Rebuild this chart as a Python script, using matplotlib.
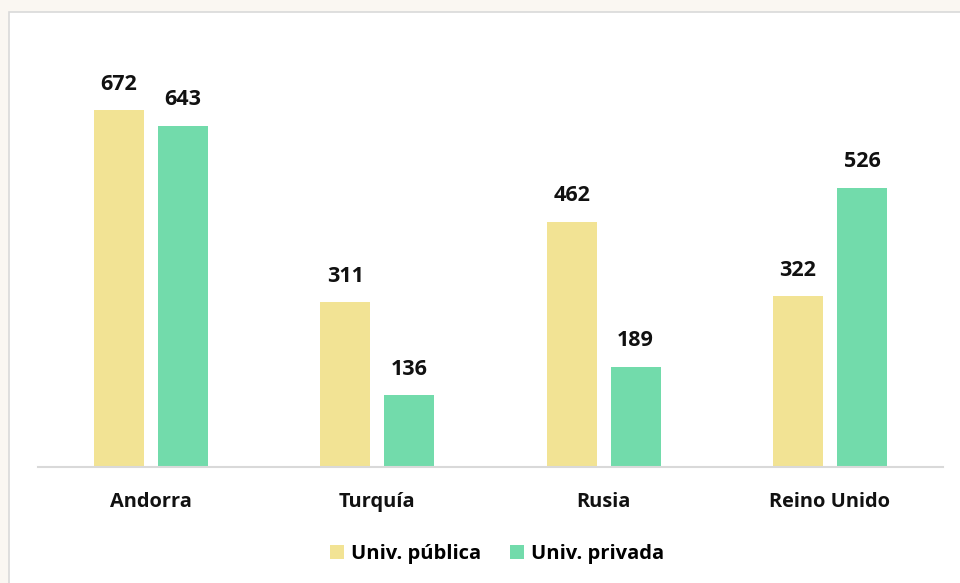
import matplotlib
matplotlib.use("Agg")
import matplotlib.pyplot as plt
from matplotlib.patches import Rectangle
import numpy as np

categories = ["Andorra", "Turquía", "Rusia", "Reino Unido"]
publica = [672, 311, 462, 322]
privada = [643, 136, 189, 526]
series_names = ["Univ. pública", "Univ. privada"]
colors = ["#F2E394", "#72DBAB"]

plt.rcParams['font.family'] = ['Open Sans', 'DejaVu Sans']

fig = plt.figure(figsize=(9.6, 5.83), dpi=100)
fig.patch.set_facecolor("#faf7f2")

# white chart frame
frame = Rectangle((9/960, -0.01), 1 - 9/960 + 0.01, 1.01 - 12/583, transform=fig.transFigure,
                  facecolor="white", edgecolor="#d9d9d9", linewidth=1.2, zorder=-5)
fig.patches.append(frame)

ax = fig.add_axes([38/960, (583-467)/583, 905/960, (467-12)/583])
ax.set_facecolor("none")
ax.set_zorder(2)

x = np.arange(len(categories))
w = 50/226
off = 32/226
b1 = ax.bar(x - off, publica, w, color=colors[0], label=series_names[0])
b2 = ax.bar(x + off, privada, w, color=colors[1], label=series_names[1])

for bars, vals in ((b1, publica), (b2, privada)):
    for rect, v in zip(bars, vals):
        ax.annotate(str(v), (rect.get_x() + rect.get_width()/2, v),
                    xytext=(0, 11), textcoords="offset points",
                    ha="center", va="bottom", fontsize=15.5, fontweight="bold", color="#111111")

ax.set_xlim(-0.5, 3.5)
ax.set_ylim(0, (467-12)/0.531)
ax.set_xticks(x)
ax.set_xticklabels(categories, fontsize=14.4, fontweight="bold", color="#111111")
ax.tick_params(axis="x", length=0, pad=18)
ax.set_yticks([])
for s in ["top", "right", "left"]:
    ax.spines[s].set_visible(False)
ax.spines["bottom"].set_color("#d9d9d9")
ax.spines["bottom"].set_linewidth(1.5)

leg = fig.legend(handles=[b1, b2], labels=series_names, loc="center",
                 bbox_to_anchor=(497/960, 1 - 554/583), ncol=2, frameon=False,
                 prop={"weight": "bold", "size": 14.5}, handlelength=0.7, handleheight=0.7,
                 handletextpad=0.35, columnspacing=1.45)
leg.set_zorder(3)

fig.savefig("out.png", dpi=100, facecolor=fig.get_facecolor())
